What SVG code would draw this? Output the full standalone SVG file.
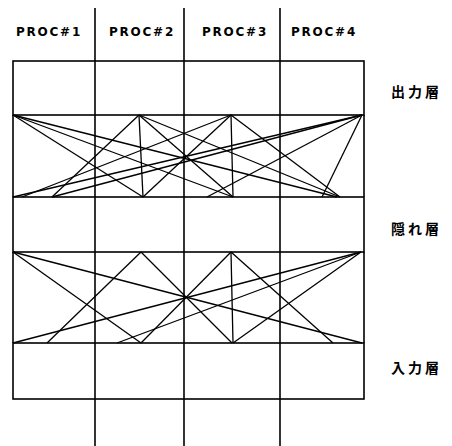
<svg xmlns="http://www.w3.org/2000/svg" width="452" height="446" viewBox="0 0 452 446">
<style>
.bg{fill:#fff}
.frame{fill:none;stroke:#000;stroke-width:1.6}
.div{stroke:#000;stroke-width:1.6}
.conn{stroke:#000;stroke-width:1.3;fill:none}
.proc{font-family:"DejaVu Sans","Liberation Sans",sans-serif;font-size:12px;font-weight:bold;fill:#000;text-anchor:middle;letter-spacing:1.8px}
.lab{font-family:"Noto Sans CJK JP",sans-serif;font-size:14px;font-weight:bold;fill:#000;letter-spacing:3px}
</style>
<rect class="bg" x="0" y="0" width="452" height="446"/>
<g id="headers">
<text class="proc" x="49" y="36">PROC#1</text>
<text class="proc" x="142" y="36">PROC#2</text>
<text class="proc" x="235" y="36">PROC#3</text>
<text class="proc" x="324" y="36">PROC#4</text>
</g>
<g id="output-layer">
<rect class="frame" x="13" y="61" width="351" height="54"/>
<text class="lab" x="391" y="97">出力層</text>
</g>
<g id="hidden-layer">
<rect class="frame" x="13" y="197" width="351" height="55"/>
<text class="lab" x="391" y="234">隠れ層</text>
</g>
<g id="input-layer">
<rect class="frame" x="13" y="343" width="351" height="56"/>
<text class="lab" x="391" y="373">入力層</text>
</g>
<g id="processor-dividers">
<line class="div" x1="95" y1="8" x2="95" y2="446"/>
<line class="div" x1="184" y1="8" x2="184" y2="446"/>
<line class="div" x1="280" y1="8" x2="280" y2="446"/>
<line class="div" x1="13" y1="115" x2="13" y2="197"/>
<line class="div" x1="364" y1="115" x2="364" y2="197"/>
<line class="div" x1="13" y1="252" x2="13" y2="343"/>
<line class="div" x1="364" y1="252" x2="364" y2="343"/>
</g>
<g id="connectors">
<line class="conn" x1="13" y1="115" x2="337" y2="197"/>
<line class="conn" x1="13" y1="115" x2="233" y2="197"/>
<line class="conn" x1="13" y1="115" x2="143" y2="197"/>
<line class="conn" x1="139" y1="115" x2="143" y2="197"/>
<line class="conn" x1="139" y1="115" x2="52" y2="197"/>
<line class="conn" x1="139" y1="115" x2="233" y2="197"/>
<line class="conn" x1="139" y1="115" x2="340" y2="197"/>
<line class="conn" x1="231" y1="115" x2="233" y2="197"/>
<line class="conn" x1="231" y1="115" x2="143" y2="197"/>
<line class="conn" x1="231" y1="115" x2="22" y2="197"/>
<line class="conn" x1="231" y1="115" x2="340" y2="197"/>
<line class="conn" x1="362" y1="115" x2="13" y2="197"/>
<line class="conn" x1="362" y1="115" x2="52" y2="197"/>
<line class="conn" x1="362" y1="115" x2="207" y2="197"/>
<line class="conn" x1="362" y1="115" x2="322" y2="197"/>

<line class="conn" x1="13" y1="252" x2="362" y2="343"/>
<line class="conn" x1="13" y1="252" x2="141" y2="343"/>
<line class="conn" x1="141" y1="252" x2="47" y2="343"/>
<line class="conn" x1="141" y1="252" x2="232" y2="343"/>
<line class="conn" x1="231" y1="252" x2="233" y2="343"/>
<line class="conn" x1="231" y1="252" x2="141" y2="343"/>
<line class="conn" x1="231" y1="252" x2="333" y2="343"/>
<line class="conn" x1="361" y1="252" x2="13" y2="343"/>
<line class="conn" x1="361" y1="252" x2="117" y2="343"/>
<line class="conn" x1="361" y1="252" x2="233" y2="343"/>
</g>
</svg>
